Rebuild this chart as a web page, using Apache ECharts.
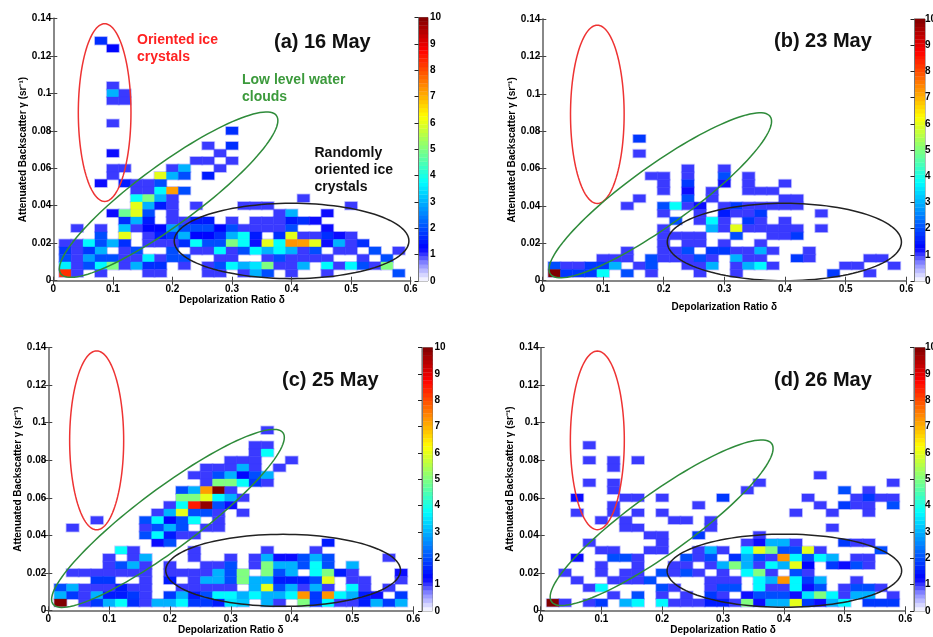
<!DOCTYPE html>
<html><head><meta charset="utf-8">
<style>html,body{margin:0;padding:0;background:#fff;overflow:hidden}#c{width:933px;height:637px}</style>
<script src="https://cdn.jsdelivr.net/npm/echarts@6/dist/echarts.min.js"></script>
</head><body><div id="c"></div>
<script>
// Each row: [row number (gamma = row*0.004), col, value, col, value ...] (delta = col*0.02)
const may16 = [
[32,4,1.7],[31,5,1.3],[26,5,1],[25,5,3,6,1],[24,5,1,6,1],[21,5,1],[20,15,1.7],[18,13,1,15,1.7],
[17,5,1.2,14,1],[16,12,1,13,1,15,1],[15,5,1,6,1,10,1,11,3,14,1],[14,5,1,9,6,10,3,11,2,13,1.5],
[13,4,1.2,6,1.5,7,1,8,1,9,2],[12,7,1,8,1,9,3.7,10,7.2,11,2],[11,7,3.8,8,5,9,3,10,1,21,1],
[10,7,6,8,3,9,1.5,10,1,12,1,16,1,17,1,18,1,25,1],
[9,5,1.2,6,4.8,7,6,8,2,10,1,19,1,20,3,23,1.2],
[8,6,1.7,7,3,8,1.5,10,1,11,1,12,1.5,13,1.5,15,1,17,1,18,1,19,1,20,1.5,21,1.7,22,1.2],
[7,2,1,4,1,6,3.2,7,1,8,1.3,9,1.3,10,2.8,11,2,12,2,13,2,14,1.3,15,2,16,1,17,1,18,1,19,1,20,2,23,1.2],
[6,4,2,6,6,8,1,9,1.5,10,1.8,11,3,12,1.3,13,1.3,14,1.7,15,3,16,3.8,17,1.5,19,1.7,20,6,21,1,22,1,23,1.7,24,1.2,25,1],
[5,1,1,2,1,3,3.7,4,2,5,3,6,1.7,8,1,9,1,10,1,11,1.7,12,3.8,13,2,14,2,15,5,16,3.8,17,1.2,18,6,19,3.8,20,7.3,21,7.2,22,6,23,1.2,24,3,25,1,26,1.7],
[4,1,1.8,2,1,3,1.8,4,3,6,1,7,2,10,2,12,1,13,1,14,3.7,15,1,16,2,17,3.7,18,3,19,3.7,20,3,21,1,22,2,24,1,25,1,27,2,29,1],
[3,1,2,2,1,3,2.8,4,2,5,2,6,1,7,1,8,3.6,9,1,10,2,11,2,14,1,15,1,18,1,19,2,20,1,21,1,22,1,23,1,26,1,28,2],
[2,1,3.6,2,1,3,2,4,3.7,5,5,6,1,7,3,8,1.7,9,1.7,11,1,13,1,14,2,15,3.7,16,3,17,3.5,18,5,19,1,20,1,21,3,23,3.7,24,1,25,3.7,26,2,27,1,28,5],
[1,1,8.3,2,1,4,1,8,1,9,1,13,1,14,1,16,1,17,3,18,2,20,1,23,1,29,2]
];
const may23 = [
[19,8,1.8],[17,8,1],[15,12,1,15,1],[14,9,1,10,1,12,1,15,2,17,1],[13,10,1,12,1.8,15,1.2,17,1,20,1],
[12,10,1,12,1.2,14,1,17,1,18,1,19,1],[11,8,1,12,2,14,1,20,1,21,1],
[10,7,1,10,2,11,3.8,12,1,13,1.2,15,1,16,1.8,17,1,18,1,19,1,20,1,21,1],
[9,10,1,13,1,15,1.5,16,1,17,1,18,1.8,23,1],[8,11,2,13,1,14,3.7,15,1,17,1.8,18,1,20,1],
[7,10,1,14,3,15,1,16,6,17,1,18,1,19,1,20,1,21,1,23,1],[6,10,1,11,1,12,1,13,1,16,2,19,1,20,1,21,1.8],
[5,10,1,12,1,13,1,15,1,18,1],[4,7,1,10,1,11,1,12,2,14,1.8,15,1.8,16,1,17,1,18,3,19,1,22,1],
[3,5,1,6,1,7,1,9,2,10,1,11,1,12,1,13,2,14,1,16,3,17,1,18,1,21,1.8,22,1,27,1,28,1],
[2,1,2,2,1,3,1,4,1.8,5,1.8,6,3,8,1,9,2,12,1,13,1,14,3,16,1,17,3,18,3.7,19,1,25,1,26,1,29,1],
[1,1,10,2,1.8,3,1.8,4,1.8,5,3.8,7,2,9,1,13,1,16,1,24,1.8,27,1]
];
const may25 = [
[24,18,1],[22,17,1,18,1],[21,17,1,18,3.8],[20,15,1,16,1,17,1,20,1],[19,13,1,14,1,15,1,16,3,17,1,19,1],
[18,12,1,13,1,14,2,15,3,16,1.3,17,2,18,3],[17,13,1,14,5,15,5,16,3.8,17,1.8,18,1],
[16,11,2,12,3,13,7.2,14,10,15,1],[15,11,5,12,5,13,6,14,3.7,15,3,16,1],
[14,10,1,11,3.8,12,8.5,13,9.8,14,2,15,1.2],[13,9,1,10,3,11,6,12,2,13,2,14,1,16,1],
[12,4,1,8,2,9,3.7,10,1.3,11,2,12,3.8,14,1],[11,2,1,8,1,9,2,10,3,11,2,13,1,14,1],
[10,8,2,9,3.7,10,1.5,11,1,12,1],[9,9,1.2,10,2,23,1.5],[8,6,3.8,7,1,12,1,18,1,22,1],
[7,5,1,7,1,8,3,12,1,15,1,17,1,18,3,19,1.2,20,1.2,21,2,22,3,23,2,28,1],
[6,5,1,6,2,7,3,8,1,10,1,13,1,14,1,15,2,17,1,18,5,19,3,20,3,21,2,22,3.8,23,2,25,3],
[5,2,1,3,1,4,1,5,1,6,1,7,1,8,1,10,1,11,1,12,1,13,1,14,3,15,2,16,5,18,5,19,2,20,3,22,3.8,23,5,24,1.5,25,1,29,1.2],
[4,4,1.8,5,1.8,8,1,10,1.5,12,1,13,3,14,3,15,2,16,5,17,3,18,3,19,1.5,20,1.5,21,1.5,22,2,23,6,25,1,26,1,29,1],
[3,1,2,2,3,3,1,4,1,5,1,6,1.5,7,1,8,1,11,1,12,1,13,1,14,1,15,1,17,3,18,6,19,2,20,3,21,1,22,3,23,1,25,3.7,26,1,28,1],
[2,1,3,2,1.8,3,1,4,3,5,1.5,6,1.5,7,1.8,8,1,10,1.8,11,3,12,1.5,13,2,14,3.7,15,3.7,16,3,17,3.7,18,3,19,3,20,3.7,21,7.3,22,1.8,23,7.3,24,3.7,25,3,26,1.5,27,1.2,29,1.8],
[1,1,10,3,1,4,1.8,5,3,6,3.8,7,1.7,8,1,9,3,10,3,11,3.7,12,1.8,13,1.8,14,1.5,15,3.5,16,3.2,18,3,19,1,21,5,22,1.8,23,3.7,24,1,25,1,26,1.5,27,3,28,1.8,29,3]
];
const may26 = [
[22,4,1],[20,4,1,6,1,8,1],[19,6,1],[18,23,1],[17,4,1,6,1,18,1,29,1],[16,6,1,17,1,25,2,27,1],
[15,3,1.2,7,1,8,1,10,1,15,1.8,22,1,26,1,27,1.8,28,1,29,1],[14,6,1,13,1,23,1,25,1.8,26,1,27,1,29,2],
[13,3,1,6,1,8,1,10,1,21,1,24,1,27,1],[12,5,1,7,1,11,1,12,1,14,1],[11,7,1,8,1,14,1,24,1],
[10,9,1,10,1,13,1.8,18,1],[9,4,1,10,1,17,1,18,1.2,19,3,20,3,21,1,25,1.8,26,1,27,1],
[8,5,1,6,1,9,1,10,1,13,1,14,3,15,1,17,3.7,18,6,19,5,20,2,21,2,22,6,23,1,28,2],
[7,3,1.2,6,2,7,2,8,1,12,2,13,1,14,2,16,1.7,17,3,18,2,19,1,20,7.3,21,3.7,22,2,23,3.7,24,3,26,1,27,1],
[6,5,1,8,1,11,1,12,1,14,1,15,3,16,5,17,3,18,1,19,3.7,20,3,21,6,22,1.3,24,1.8,25,1.2,26,2,27,1],
[5,2,1,5,1,7,1,8,1,10,2,11,1,12,2,13,1,15,1,17,3.7,18,5,19,1,21,2,22,1],
[4,3,1,6,1,7,1,8,1,9,2,14,1,15,1,16,1,18,3.7,19,3,20,7.3,21,3.7,22,1.8,23,3,26,1],
[3,4,1,5,3.7,10,2,11,1,14,1,15,2,16,2,18,3.7,19,1,20,1,21,3.7,22,1.2,23,2,25,1,26,2,27,2,28,1],
[2,6,1,8,2,10,1,12,1,14,1.8,15,1,17,1.2,18,2,19,2,20,2,21,1.2,22,3.5,23,5,24,3.7,25,1,26,3,27,3,29,1],
[1,1,10,2,1,4,1,5,1.8,7,3,8,3.7,10,3.7,11,1,12,1,13,1,14,1.5,15,1.5,16,1,17,5,18,1.2,19,3,20,3,21,6,22,1.8,23,1.2,24,3,25,3.7,27,1.8,28,1.8,29,1.8]
];
const panelTitles = ['(a) 16 May','(b) 23 May','(c) 25 May','(d) 26 May'];
const xTicks = {min:0,max:0.6,step:0.1};
const yTicks = {min:0,max:0.14,step:0.02};
const xName = 'Depolarization Ratio δ';
const yName = 'Attenuated Backscatter γ (sr⁻¹)';
const colorStops = ['#ffffff','#9090ff','#0000ff','#0040ff','#0080ff','#00bfff','#00ffff','#40ffbf','#80ff80','#bfff40','#ffff00','#ffbf00','#ff8000','#ff4000','#ff0000','#bf0000','#800000'];
const barLevels = [0.08,0.23,0.39,0.55,0.7,0.86,1.02,1.17,1.33,1.48,1.64,1.8,1.95,2.11,2.27,2.42,2.58,2.73,2.89,3.05,3.2,3.36,3.52,3.67,3.83,3.98,4.14,4.3,4.45,4.61,4.77,4.92,5.08,5.23,5.39,5.55,5.7,5.86,6.02,6.17,6.33,6.48,6.64,6.8,6.95,7.11,7.27,7.42,7.58,7.73,7.89,8.05,8.2,8.36,8.52,8.67,8.83,8.98,9.14,9.3,9.45,9.61,9.77,9.92];

// Ellipses in data units: centre, semi-axis vector 1, semi-axis vector 2
const ellipseA = [[0.0862,0.0897,0.0442,0,0,0.0474],[0.1936,0.0459,0.181,0.0422,-0.0297,0.0129],[0.400,0.0212,0.197,0,0,0.0201]];
const ellipseB = [[0.0907,0.0890,0.0442,0,0,0.0477],[0.1945,0.0457,0.181,0.0422,-0.0297,0.0129],[0.399,0.0207,0.193,0,0,0.0207]];
const ellipseC = [[0.0795,0.0906,0.0444,0,0,0.0477],[0.1967,0.0490,0.189,0.0457,-0.0296,0.0128],[0.386,0.0213,0.193,0,0,0.0192]];
const ellipseD = [[0.0932,0.0906,0.0444,0,0,0.0476],[0.199,0.0467,0.181,0.0422,-0.0297,0.0129],[0.401,0.0211,0.193,0,0,0.0195]];
const ellipseColors = ['#ee3333','#2e8b3a','#222222'];

const panels = [
 {rows:may16,ell:ellipseA,l:53.3,r:410.7,t:18.3,b:280.7,bl:418.5,br:428,bt:17.5,bb:281,xGap:14,yGap:19,barGap:2,tx:274,ty:44},
 {rows:may23,ell:ellipseB,l:542.3,r:906.3,t:19,b:280.7,bl:914.5,br:925,bt:19,bb:281,xGap:22,yGap:22,barGap:0,tx:774,ty:43},
 {rows:may25,ell:ellipseC,l:48.3,r:413.3,t:347.7,b:610.3,bl:422,br:432.5,bt:347.7,bb:611,xGap:15,yGap:22,barGap:2,tx:282,ty:382},
 {rows:may26,ell:ellipseD,l:540.7,r:905.3,t:347.7,b:610.3,bl:914,br:925,bt:347.7,bb:611,xGap:15,yGap:22,barGap:0,tx:774,ty:382}
];
const FONT='"Liberation Sans",Arial,sans-serif';
const grids=[],xAxes=[],yAxes=[],series=[],graphic=[];
const binX=0.02, binY=0.004;
function cells(rows){const o=[];rows.forEach(r=>{for(let i=1;i<r.length;i+=2)o.push([r[i]*binX,r[0]*binY,r[i+1]]);});return o;}
const labelStyle={color:'#000',fontFamily:FONT,fontWeight:'bold',fontSize:10};
function cellRect(api){
  const x=api.value(0),y=api.value(1);
  const a=api.coord([x-binX/2,y+binY/2]),b=api.coord([x+binX/2,y-binY/2]);
  return {x:a[0],y:a[1],width:b[0]-a[0],height:b[1]-a[1]};
}
panels.forEach((p,i)=>{
  const gi=grids.length;
  grids.push({left:p.l,top:p.t,width:p.r-p.l,height:p.b-p.t,outerBoundsMode:'none'});
  grids.push({left:p.bl,top:p.bt,width:p.br-p.bl,height:p.bb-p.bt,show:true,borderColor:'#777',borderWidth:1,outerBoundsMode:'none'});
  const line={show:true,lineStyle:{color:'#808080',width:1.5}};
  const tick={show:true,inside:true,length:4,lineStyle:{color:'#444',width:1}};
  const nameStyle={color:'#000',fontFamily:FONT,fontWeight:'bold',fontSize:10};
  const xi=xAxes.length, yi=yAxes.length;
  xAxes.push({type:'value',gridIndex:gi,position:'bottom',min:xTicks.min,max:xTicks.max,interval:xTicks.step,z:5,
    name:xName,nameLocation:'middle',nameGap:p.xGap,nameTextStyle:nameStyle,axisLine:line,axisTick:tick,splitLine:{show:false},
    axisLabel:Object.assign({margin:4,showMinLabel:true,showMaxLabel:true},labelStyle)});
  xAxes.push({type:'value',gridIndex:gi,position:'top',min:xTicks.min,max:xTicks.max,interval:xTicks.step,z:5,axisLine:line,axisTick:tick,splitLine:{show:false},axisLabel:{show:false}});
  yAxes.push({type:'value',gridIndex:gi,position:'left',min:yTicks.min,max:yTicks.max,interval:yTicks.step,z:5,
    name:yName,nameLocation:'middle',nameGap:p.yGap,nameTextStyle:nameStyle,axisLine:line,axisTick:tick,splitLine:{show:false},
    axisLabel:Object.assign({margin:2,showMinLabel:true,showMaxLabel:true},labelStyle)});
  yAxes.push({type:'value',gridIndex:gi,position:'right',min:yTicks.min,max:yTicks.max,interval:yTicks.step,z:5,axisLine:line,axisTick:tick,splitLine:{show:false},axisLabel:{show:false}});
  // colour bar axes
  xAxes.push({type:'value',gridIndex:gi+1,min:0,max:1,show:false});
  yAxes.push({type:'value',gridIndex:gi+1,position:'right',min:0,max:10,interval:1,z:5,
    axisLine:{show:true,lineStyle:{color:'#777',width:1}},axisTick:{show:true,inside:true,length:4,lineStyle:{color:'#222',width:1,type:'solid'}},splitLine:{show:false},
    axisLabel:Object.assign({margin:p.barGap,showMinLabel:true,showMaxLabel:true},labelStyle)});
  const data=cells(p.rows);
  series.push({type:'custom',xAxisIndex:xi,yAxisIndex:yi,data,z:2,
    renderItem(params,api){
      return {type:'rect',shape:cellRect(api),style:{fill:api.visual('color'),stroke:api.visual('color'),lineWidth:0.3}};
    }});
  series.push({type:'custom',xAxisIndex:xi,yAxisIndex:yi,data:p.ell,z:3,silent:true,clip:false,
    renderItem(params,api){
      const v=[0,1,2,3,4,5].map(n=>api.value(n)),pts=[];
      for(let n=0;n<120;n++){const t=n/120*2*Math.PI,c=Math.cos(t),s=Math.sin(t);
        pts.push(api.coord([v[0]+c*v[2]+s*v[4],v[1]+c*v[3]+s*v[5]]));}
      return {type:'polygon',shape:{points:pts},style:{fill:'none',stroke:ellipseColors[params.dataIndex],lineWidth:1.5}};
    }});
  series.push({type:'custom',xAxisIndex:xi+2,yAxisIndex:yi+2,data:barLevels.map(v=>[0.5,v,v]),z:2,silent:true,
    renderItem(params,api){
      const y=api.value(1);
      const a=api.coord([0,y+0.0825]),b=api.coord([1,y-0.0825]);
      return {type:'rect',shape:{x:a[0],y:a[1],width:b[0]-a[0],height:b[1]-a[1]},style:{fill:api.visual('color'),stroke:api.visual('color'),lineWidth:0.2}};
    }});
  // soft edge round the cells, as in the blurred reference image
  series.push({type:'custom',xAxisIndex:xi,yAxisIndex:yi,data,z:1,silent:true,
    renderItem(params,api){
      return {type:'rect',shape:cellRect(api),style:{fill:'none',stroke:'rgba(130,130,255,0.4)',lineWidth:2}};
    }});
  graphic.push({type:'text',left:p.tx,top:p.ty-12,z:10,style:{text:panelTitles[i],fill:'#111',font:'bold 20px '+FONT}});
});
const ann=[['Oriented ice\ncrystals',137,31,'#ff2222'],['Low level water\nclouds',242,71,'#3c9a3c'],['Randomly\noriented ice\ncrystals',314.5,144,'#111']];
ann.forEach(a=>graphic.push({type:'text',left:a[1],top:a[2],z:10,style:{text:a[0],fill:a[3],font:'bold 14px '+FONT,lineHeight:17.3}}));

const chart=echarts.init(document.getElementById('c'),null,{renderer:'canvas'});
chart.setOption({animation:false,backgroundColor:'#fff',grid:grids,xAxis:xAxes,yAxis:yAxes,series,graphic,
  visualMap:{show:false,type:'continuous',min:0,max:10,dimension:2,seriesIndex:series.map((s,i)=>i).filter(i=>i%4===0||i%4===2),inRange:{color:colorStops}}});
</script></body></html>
